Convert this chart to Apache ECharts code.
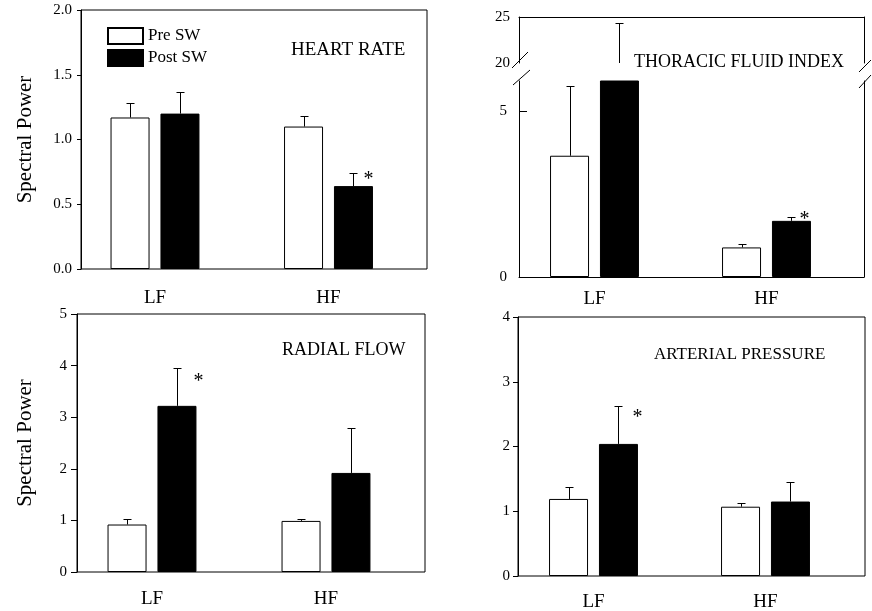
<!DOCTYPE html>
<html><head><meta charset="utf-8">
<script src="https://cdn.jsdelivr.net/npm/echarts@6/dist/echarts.min.js"></script>
<style>html,body{margin:0;padding:0;background:#fff}#c{width:872px;height:611px}</style>
</head><body><div id="c"></div>
<script>
// ---------------- data ----------------
const categories = ['LF', 'HF'];
const seriesNames = ['Pre SW', 'Post SW'];
const yAxisTitle = 'Spectral Power';
const panelTitles = ['HEART RATE', 'THORACIC FLUID INDEX', 'RADIAL FLOW', 'ARTERIAL PRESSURE'];

// Heart rate
const hrPre = [1.17, 1.10];
const hrPreErr = [0.11, 0.085];
const hrPost = [1.20, 0.64];
const hrPostErr = [0.17, 0.105];
const hrStar = [false, true];
const hrTicks = [0, 0.5, 1.0, 1.5, 2.0];

// Thoracic fluid index (broken axis)
const tfiPre = [3.65, 0.89];
const tfiPreErr = [2.10, 0.09];
const tfiPost = [20.0, 1.69];
const tfiPostErr = [4.4, 0.13];
const tfiStar = [false, true];
const tfiLowTicks = [0, 5];
const tfiHighTicks = [20, 25];

// Radial flow
const rfPre = [0.92, 0.99];
const rfPreErr = [0.10, 0.045];
const rfPost = [3.22, 1.92];
const rfPostErr = [0.73, 0.88];
const rfStar = [true, false];
const rfTicks = [0, 1, 2, 3, 4, 5];

// Arterial pressure
const apPre = [1.19, 1.07];
const apPreErr = [0.18, 0.05];
const apPost = [2.04, 1.15];
const apPostErr = [0.58, 0.30];
const apStar = [true, false];
const apTicks = [0, 1, 2, 3, 4];

// ---------------- styling / layout ----------------
const F = '"Liberation Serif", "Times New Roman", serif';
const BLACK = '#000';
const BW = 39, GAP_RATIO = 0.28, OFF = BW * (1 + GAP_RATIO) / 2;

const option = {
  animation: false,
  backgroundColor: '#fff',
  title: [], grid: [], xAxis: [], yAxis: [], series: [], graphic: [],
  legend: {
    data: seriesNames, orient: 'vertical', left: 107, top: 27, padding: 0,
    itemWidth: 35, itemHeight: 16, itemGap: 4, icon: 'rect', selectedMode: false,
    textStyle: { fontFamily: F, fontSize: 17, color: BLACK }
  }
};

function txt(size) { return { fontFamily: F, fontSize: size, color: BLACK }; }
function addGrid(l, t, w, h) {
  option.grid.push({ left: l, top: t, width: w, height: h, containLabel: false, outerBoundsMode: 'none', show: false });
  return option.grid.length - 1;
}
function addX(a) { option.xAxis.push(a); return option.xAxis.length - 1; }
function addY(a) { option.yAxis.push(a); return option.yAxis.length - 1; }
function hiddenValue(gi, min, max) { return { gridIndex: gi, type: 'value', show: false, min: min, max: max }; }

function visibleY(gi, c) {
  const tick = { show: c.tickShow !== false, inside: !!c.tickInside, length: c.tickLen || 5, lineStyle: { color: BLACK, width: 1 } };
  if (c.tickValues) tick.customValues = c.tickValues;
  const label = Object.assign({ show: c.labelShow !== false, margin: c.labelMargin || 8 }, txt(15));
  if (c.fmt) label.formatter = c.fmt;
  if (c.labelValues) label.customValues = c.labelValues;
  return {
    gridIndex: gi, type: 'value', min: c.min, max: c.max, interval: c.interval, position: c.position || 'left',
    axisLine: { show: true, onZero: false, lineStyle: { color: BLACK, width: 1 } },
    axisTick: tick, axisLabel: label, splitLine: { show: false },
    name: c.name || '', nameLocation: 'middle', nameGap: c.nameGap || 0, nameTextStyle: txt(21)
  };
}
function catAxis(gi, showLabel, margin) {
  return {
    gridIndex: gi, type: 'category', data: categories,
    axisLine: { show: false }, axisTick: { show: false }, splitLine: { show: false },
    axisLabel: Object.assign({ show: showLabel, margin: margin, interval: 0 }, txt(19))
  };
}

function errRender(sign, stars, sdx, sdy) {
  return function (params, api) {
    const i = api.value(0);
    const p0 = api.coord([i, api.value(1)]);
    const p1 = api.coord([i, api.value(2)]);
    const cx = Math.round(p0[0] + sign * OFF) + 0.5;
    const y1 = Math.round(p1[1]) + 0.5;
    const ch = [
      { type: 'line', shape: { x1: cx, y1: p0[1], x2: cx, y2: y1 }, style: { stroke: BLACK, lineWidth: 1 } },
      { type: 'line', shape: { x1: cx - 4, y1: y1, x2: cx + 4, y2: y1 }, style: { stroke: BLACK, lineWidth: 1 } }
    ];
    if (stars && stars[i]) {
      ch.push({ type: 'text', x: cx + sdx, y: y1 + sdy,
        style: { text: '*', font: '20px ' + F, fill: BLACK, align: 'center', verticalAlign: 'middle' } });
    }
    return { type: 'group', children: ch };
  };
}

function addData(gi, ymin, ymax, showLabel, labelMargin, pre, preErr, post, postErr, stars, sdx, sdy, withBars) {
  const xi = addX(catAxis(gi, showLabel, labelMargin));
  const yi = addY(hiddenValue(gi, ymin, ymax));
  if (withBars) {
    option.series.push({ type: 'bar', name: seriesNames[0], xAxisIndex: xi, yAxisIndex: yi, data: pre,
      barWidth: BW, barGap: (GAP_RATIO * 100) + '%', clip: true,
      itemStyle: { color: '#fff', borderColor: BLACK, borderWidth: 1 } });
    option.series.push({ type: 'bar', name: seriesNames[1], xAxisIndex: xi, yAxisIndex: yi, data: post,
      barWidth: BW, barGap: (GAP_RATIO * 100) + '%', clip: true,
      itemStyle: { color: '#000', borderColor: BLACK, borderWidth: 1 } });
  }
  option.series.push({ type: 'custom', xAxisIndex: xi, yAxisIndex: yi, clip: true, z: 3,
    renderItem: errRender(-1, null, 0, 0),
    data: pre.map((v, i) => [i, v, v + preErr[i]]) });
  option.series.push({ type: 'custom', xAxisIndex: xi, yAxisIndex: yi, clip: true, z: 3,
    renderItem: errRender(1, stars, sdx, sdy),
    data: post.map((v, i) => [i, v, v + postErr[i]]) });
}

function addTitle(text, left, top, size) {
  option.title.push({ text: text, left: left, top: top, padding: 0,
    textStyle: { fontFamily: F, fontSize: size, fontWeight: 'normal', color: BLACK } });
}

function simplePanel(p) {
  const fg = addGrid(p.frame[0], p.frame[1], p.frame[2], p.frame[3]);
  option.grid[fg].show = true;
  option.grid[fg].borderColor = BLACK;
  option.grid[fg].borderWidth = 1;
  addX(hiddenValue(fg, 0, 1));
  addY(visibleY(fg, { min: p.ticks[0], max: p.ticks[p.ticks.length - 1], interval: p.ticks[1] - p.ticks[0],
    fmt: p.fmt, tickLen: p.tickLen, labelMargin: p.labelMargin, name: p.name, nameGap: p.nameGap }));
  const dg = addGrid(p.dataLeft, p.frame[1], p.dataWidth, p.frame[3]);
  addData(dg, p.ticks[0], p.ticks[p.ticks.length - 1], true, p.xMargin,
    p.pre, p.preErr, p.post, p.postErr, p.stars, p.sdx, p.sdy, true);
}

// Panel 1 – heart rate
simplePanel({ frame: [81, 10, 346, 259], dataLeft: 68.25, dataWidth: 347, ticks: hrTicks,
  fmt: v => v.toFixed(1), tickLen: 4, labelMargin: 9, name: yAxisTitle, nameGap: 45, xMargin: 20,
  pre: hrPre, preErr: hrPreErr, post: hrPost, postErr: hrPostErr, stars: hrStar, sdx: 15, sdy: 6 });
addTitle(panelTitles[0], 291, 41, 19);

// Panel 3 – radial flow
simplePanel({ frame: [77, 314, 348, 258], dataLeft: 65, dataWidth: 348, ticks: rfTicks,
  tickLen: 6, labelMargin: 10, name: yAxisTitle, nameGap: 41, xMargin: 18,
  pre: rfPre, preErr: rfPreErr, post: rfPost, postErr: rfPostErr, stars: rfStar, sdx: 21, sdy: 13 });
addTitle(panelTitles[2], 282, 341, 18);

// Panel 4 – arterial pressure
simplePanel({ frame: [518, 317, 347, 259], dataLeft: 507.5, dataWidth: 344, ticks: apTicks,
  tickLen: 5, labelMargin: 8, xMargin: 17,
  pre: apPre, preErr: apPreErr, post: apPost, postErr: apPostErr, stars: apStar, sdx: 19, sdy: 11 });
addTitle(panelTitles[3], 654, 346, 17);

// Panel 2 – thoracic fluid index, broken y axis
const P2 = { left: 519, width: 345, upTop: 17, upBottom: 63, lowTop: 81, lowBottom: 277, dataLeft: 508.5, dataWidth: 344 };
const lowMax = 5.9;
(function () {
  const upH = P2.upBottom - P2.upTop, lowH = P2.lowBottom - P2.lowTop;
  // upper frame
  const ug = addGrid(P2.left, P2.upTop, P2.width, upH);
  addX({ gridIndex: ug, type: 'value', position: 'top', min: 0, max: 1,
    axisLine: { show: true, onZero: false, lineStyle: { color: BLACK, width: 1 } },
    axisTick: { show: false }, axisLabel: { show: false }, splitLine: { show: false } });
  addY(visibleY(ug, { min: tfiHighTicks[0], max: tfiHighTicks[1], interval: tfiHighTicks[1] - tfiHighTicks[0],
    tickShow: false, labelMargin: 9, labelValues: tfiHighTicks }));
  addY(visibleY(ug, { min: tfiHighTicks[0], max: tfiHighTicks[1], interval: 5, position: 'right',
    tickShow: false, labelShow: false }));
  // lower frame
  const lg = addGrid(P2.left, P2.lowTop, P2.width, lowH);
  addX({ gridIndex: lg, type: 'value', position: 'bottom', min: 0, max: 1,
    axisLine: { show: true, onZero: false, lineStyle: { color: BLACK, width: 1 } },
    axisTick: { show: false }, axisLabel: { show: false }, splitLine: { show: false } });
  addY(visibleY(lg, { min: 0, max: lowMax, interval: 5, tickInside: true, tickLen: 8,
    tickValues: [tfiLowTicks[1]], labelValues: tfiLowTicks, labelMargin: 12 }));
  addY(visibleY(lg, { min: 0, max: lowMax, interval: 5, position: 'right', tickShow: false, labelShow: false }));
  // data grids
  const udg = addGrid(P2.dataLeft, P2.upTop, P2.dataWidth, upH);
  addData(udg, tfiHighTicks[0], tfiHighTicks[1], false, 0, tfiPre, tfiPreErr, tfiPost, tfiPostErr, null, 0, 0, false);
  const ldg = addGrid(P2.dataLeft, P2.lowTop, P2.dataWidth, lowH);
  addData(ldg, 0, lowMax, true, 13, tfiPre, tfiPreErr, tfiPost, tfiPostErr, tfiStar, 13, 2, true);
  // break marks
  const ls = { stroke: BLACK, lineWidth: 1 };
  const L = P2.left, R = P2.left + P2.width;
  option.graphic.push(
    { type: 'line', silent: true, shape: { x1: L - 7, y1: P2.upBottom + 5, x2: L + 9, y2: P2.upBottom - 11 }, style: ls },
    { type: 'line', silent: true, shape: { x1: L - 6, y1: P2.lowTop + 4, x2: L + 11, y2: P2.lowTop - 11 }, style: ls },
    { type: 'line', silent: true, shape: { x1: R - 5, y1: P2.upBottom + 9, x2: R + 7, y2: P2.upBottom - 3 }, style: ls },
    { type: 'line', silent: true, shape: { x1: R - 5, y1: P2.lowTop + 7, x2: R + 7, y2: P2.lowTop - 6 }, style: ls }
  );
})();
addTitle(panelTitles[1], 634, 53, 18);

const chart = echarts.init(document.getElementById('c'), null, { renderer: 'canvas' });
chart.setOption(option);
</script>
</body></html>
